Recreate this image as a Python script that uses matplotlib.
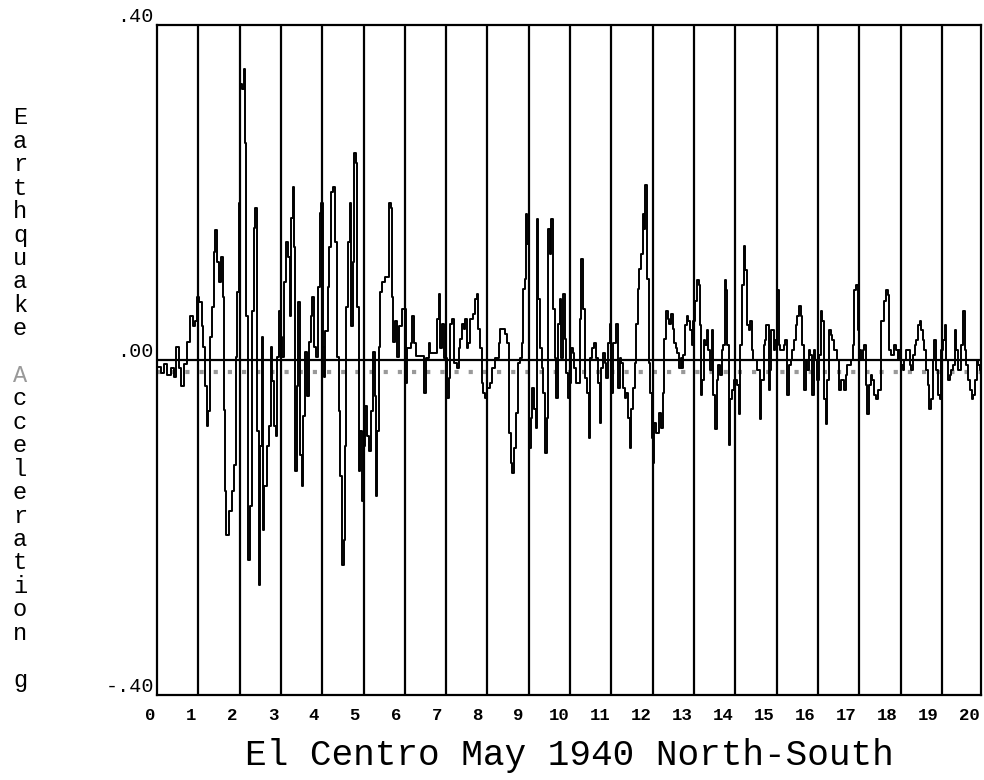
import numpy as np
import matplotlib
matplotlib.use("Agg")
import matplotlib.pyplot as plt
import matplotlib.transforms as mtransforms

# El Centro N-S record (time s, acceleration g)
t_a = [0.00, 0.10, 0.18, 0.25, 0.33, 0.40, 0.47, 0.53, 0.59, 0.65, 0.72, 0.80, 0.86, 0.92,
       0.96, 1.02, 1.08, 1.12, 1.16, 1.20, 1.24, 1.28, 1.33, 1.38, 1.41, 1.46, 1.51, 1.55,
       1.59, 1.62, 1.65, 1.67, 1.73, 1.81, 1.87, 1.90, 1.93, 1.98, 2.02, 2.06, 2.10, 2.14,
       2.16, 2.20, 2.24, 2.30, 2.34, 2.38, 2.42, 2.46, 2.50, 2.53, 2.56, 2.60, 2.67, 2.71,
       2.75, 2.79, 2.83, 2.87, 2.91, 2.95, 2.99, 3.03, 3.07, 3.13, 3.17, 3.21, 3.25, 3.28,
       3.32, 3.34, 3.38, 3.41, 3.46, 3.50, 3.54, 3.59, 3.64, 3.68, 3.72, 3.76, 3.80, 3.85,
       3.89, 3.94, 3.98, 4.01, 4.05, 4.07, 4.13, 4.17, 4.21, 4.27, 4.31, 4.36, 4.40, 4.44,
       4.48, 4.52, 4.55, 4.58, 4.62, 4.66, 4.70, 4.74, 4.78, 4.82, 4.85, 4.88, 4.92, 4.96,
       5.00, 5.04, 5.09, 5.14, 5.19, 5.23, 5.27, 5.31, 5.33, 5.37, 5.40, 5.45, 5.51, 5.58,
       5.61, 5.66, 5.69, 5.72, 5.76, 5.80, 5.86, 5.94]
g_a = [-0.008, -0.015, -0.005, -0.018, -0.010, -0.020, 0.016, -0.010, -0.031, -0.005, 0.022,
       0.052, 0.040, 0.046, 0.075, 0.069, 0.040, 0.016, -0.031, -0.079, -0.061, 0.028, 0.063,
       0.129, 0.155, 0.117, 0.093, 0.123, 0.075, -0.060, -0.156, -0.209, -0.180, -0.156,
       -0.126, 0.004, 0.081, 0.188, 0.330, 0.324, 0.348, 0.259, 0.052, -0.239, -0.174, 0.058,
       0.158, 0.182, -0.085, -0.269, -0.103, 0.028, -0.203, -0.150, -0.103, -0.079, 0.016,
       -0.025, -0.079, -0.091, 0.004, 0.058, 0.028, 0.004, 0.093, 0.141, 0.123, 0.052, 0.170,
       0.206, 0.135, -0.132, -0.031, 0.069, -0.114, -0.150, -0.067, 0.010, -0.043, 0.022,
       0.052, 0.075, 0.016, 0.004, 0.087, 0.176, 0.188, 0.016, -0.020, 0.034, 0.087, 0.135,
       0.200, 0.206, 0.141, 0.004, -0.061, -0.138, -0.245, -0.215, -0.103, 0.063, 0.141,
       0.188, 0.040, 0.117, 0.247, 0.235, 0.063, -0.132, -0.085, -0.168, -0.103, -0.055,
       -0.091, -0.109, -0.061, 0.010, -0.043, -0.162, -0.085, 0.016, 0.081, 0.093, 0.099,
       0.099, 0.188, 0.182, 0.075, 0.022, 0.046, 0.004, 0.040, 0.061]

t_b = [6.02, 6.06, 6.14, 6.18, 6.22, 6.26, 6.46, 6.50, 6.58, 6.62, 6.78, 6.82, 6.86, 6.90,
       6.94, 7.02, 7.06, 7.10, 7.14, 7.18, 7.26, 7.30, 7.34, 7.38, 7.42, 7.46, 7.50, 7.54,
       7.58, 7.66, 7.70, 7.74, 7.78, 7.82, 7.86, 7.90, 7.94, 7.98, 8.06, 8.10, 8.18, 8.27,
       8.31, 8.43, 8.47, 8.51, 8.53, 8.56, 8.60, 8.64, 8.68, 8.73, 8.79, 8.83, 8.87, 8.91,
       8.93, 8.96, 9.01, 9.05, 9.09, 9.12, 9.17, 9.19, 9.23, 9.27, 9.31, 9.35, 9.39, 9.43,
       9.47, 9.51, 9.55, 9.59, 9.63, 9.67, 9.71, 9.75, 9.79, 9.83, 9.87, 9.91, 9.95, 9.99,
       10.02, 10.06, 10.10, 10.15, 10.23, 10.27, 10.31, 10.35, 10.41, 10.45, 10.49, 10.54,
       10.57, 10.62, 10.68, 10.72, 10.76, 10.80, 10.84, 10.88, 10.92, 10.96, 11.00, 11.04,
       11.12, 11.16, 11.20, 11.24, 11.28, 11.32, 11.36, 11.40, 11.44, 11.48, 11.52, 11.56,
       11.60, 11.64, 11.68, 11.72, 11.76, 11.80, 11.82, 11.86, 11.90, 11.94, 11.98, 12.00,
       12.04, 12.08, 12.16, 12.20, 12.24, 12.28, 12.32, 12.36, 12.40, 12.44, 12.48, 12.52,
       12.56, 12.60, 12.64, 12.68, 12.72]
g_b = [-0.028, 0.014, 0.020, 0.052, 0.020, 0.005, -0.040, 0.002, 0.020, 0.008, 0.049, 0.079,
       0.014, 0.043, 0.002, -0.046, -0.022, 0.043, 0.049, -0.004, -0.010, 0.014, 0.025,
       0.043, 0.037, 0.049, 0.014, 0.020, 0.049, 0.055, 0.073, 0.079, 0.037, 0.014, -0.028,
       -0.040, -0.046, -0.034, -0.028, -0.010, 0.002, 0.020, 0.037, 0.031, 0.020, 0.002,
       -0.087, -0.123, -0.135, -0.105, -0.063, -0.004, 0.002, 0.020, 0.085, 0.097, 0.174,
       0.138, -0.105, -0.069, -0.034, -0.058, -0.081, 0.168, 0.073, 0.014, -0.010, -0.040,
       -0.111, -0.069, 0.156, 0.126, 0.168, 0.061, 0.002, -0.046, 0.043, 0.073, 0.002, 0.079,
       0.025, -0.016, -0.046, -0.028, 0.014, 0.008, -0.010, -0.028, 0.049, 0.120, 0.061,
       -0.022, -0.040, -0.093, 0.002, 0.014, 0.020, 0.002, -0.028, -0.075, -0.010, 0.008,
       -0.004, -0.022, 0.020, 0.043, -0.040, 0.020, 0.043, -0.034, 0.002, -0.004, -0.034,
       -0.046, -0.040, -0.069, -0.105, -0.058, -0.034, -0.004, 0.043, 0.085, 0.109, 0.126,
       0.174, 0.156, 0.209, 0.097, -0.004, -0.040, -0.093, -0.123, -0.075, -0.087, -0.063,
       -0.081, -0.040, 0.025, 0.058, 0.049, 0.043, 0.055, 0.037, 0.020, 0.014, 0.008, -0.010,
       0.002, -0.010]

t_c = [12.74, 12.78, 12.82, 12.86, 12.90, 12.94, 12.98, 13.02, 13.07, 13.11, 13.15, 13.16,
       13.20, 13.24, 13.27, 13.31, 13.35, 13.39, 13.43, 13.47, 13.51, 13.55, 13.59, 13.63,
       13.67, 13.71, 13.74, 13.78, 13.81, 13.84, 13.88, 13.92, 13.97, 14.04, 14.08, 14.12,
       14.16, 14.20, 14.24, 14.28, 14.32, 14.36, 14.40, 14.44, 14.53, 14.59, 14.62, 14.69,
       14.73, 14.75, 14.81, 14.85, 14.87, 14.93, 14.97, 15.01, 15.05, 15.09, 15.13, 15.17,
       15.21, 15.25, 15.30, 15.34, 15.38, 15.42, 15.46, 15.50, 15.54, 15.58, 15.62, 15.66,
       15.70, 15.74, 15.78, 15.82, 15.86, 15.90, 15.94, 15.99, 16.03, 16.07, 16.11, 16.15,
       16.19, 16.23, 16.27, 16.31, 16.35, 16.39, 16.47, 16.51, 16.55, 16.63, 16.67, 16.71,
       16.80, 16.84, 16.88, 16.92, 16.96, 17.00, 17.04, 17.08, 17.12, 17.16, 17.20, 17.24,
       17.28, 17.32, 17.36, 17.40, 17.45, 17.53, 17.61, 17.65, 17.69, 17.73, 17.77, 17.85,
       17.89, 17.93, 17.97, 18.01, 18.05, 18.09, 18.13, 18.22, 18.26, 18.30, 18.34, 18.38,
       18.42, 18.46, 18.50, 18.54, 18.58, 18.62, 18.66, 18.70, 18.74, 18.78, 18.82, 18.86,
       18.90, 18.95, 18.99, 19.03, 19.07, 19.11, 19.15, 19.19, 19.23, 19.27, 19.31, 19.35,
       19.39, 19.47, 19.51, 19.55, 19.59, 19.63, 19.68, 19.72, 19.76, 19.80, 19.84, 19.88,
       19.92, 19.96]
g_c = [0.006, 0.042, 0.053, 0.047, 0.036, 0.018, 0.047, 0.071, 0.095, 0.089, 0.042, -0.042,
       -0.024, 0.024, 0.018, 0.036, 0.012, -0.012, 0.036, -0.042, -0.083, -0.024, -0.006,
       -0.018, 0.012, 0.018, 0.095, 0.083, 0.018, -0.101, -0.047, -0.036, -0.024, -0.030,
       -0.065, 0.018, 0.089, 0.136, 0.107, 0.042, 0.036, 0.047, 0.012, 0.000, -0.012, -0.071,
       -0.024, 0.018, 0.024, 0.042, -0.036, -0.012, 0.036, 0.012, 0.024, 0.083, 0.018, 0.012,
       0.012, 0.018, 0.024, -0.042, -0.006, 0.000, 0.012, 0.024, 0.042, 0.053, 0.065, 0.053,
       0.018, -0.036, 0.000, -0.012, 0.012, 0.006, -0.042, 0.012, 0.000, -0.024, 0.006, 0.059,
       0.047, -0.047, -0.077, -0.024, 0.036, 0.030, 0.024, 0.012, 0.000, -0.036, -0.024,
       -0.036, -0.018, -0.006, 0.000, 0.018, 0.083, 0.089, 0.036, 0.012, 0.000, 0.012, 0.018,
       -0.030, -0.065, -0.030, -0.018, -0.024, -0.042, -0.047, -0.036, 0.047, 0.071, 0.083,
       0.077, 0.012, 0.006, 0.018, 0.012, 0.000, 0.012, -0.006, -0.012, 0.000, 0.012, -0.006,
       -0.012, 0.006, 0.018, 0.024, 0.042, 0.047, 0.036, 0.024, 0.012, -0.012, -0.030, -0.059,
       -0.047, 0.000, 0.024, -0.012, -0.042, -0.047, 0.012, 0.024, 0.042, 0.000, -0.024,
       -0.018, -0.012, -0.006, 0.036, 0.012, -0.012, 0.018, 0.059, 0.012, -0.006, -0.024,
       -0.036, -0.047, -0.042, -0.024, 0.000, -0.006, -0.012, 0.012]

seconds = list(range(1, 20))
x_labels = [str(k) for k in range(0, 21)]
y_ticks = [0.40, 0.00, -0.40]
y_labels = ['.40', '.00', '-.40']
ylabel_text = 'Earthquake Acceleration g'
xlabel_text = 'El Centro May 1940 North-South'

MONO = ['Liberation Mono', 'DejaVu Sans Mono']

fig = plt.figure(figsize=(9.84, 7.80), dpi=100)
ax = fig.add_axes([0.1596, 0.109, 0.8374, 0.859])

t = np.array(t_a + t_b + t_c)
g = np.array(g_a + g_b + g_c)

# scanner speckle row just under the zero line
ax.axhline(-0.014, color='0.6', lw=3.0, dashes=(1.0, 2.4), zorder=1)
ax.axhline(0.0, color='black', lw=1.6, zorder=2)
for s in seconds:
    ax.axvline(s, color='black', lw=1.6, zorder=2)
ax.plot(t, g, color='black', lw=1.4, drawstyle='steps-post', zorder=3)

ax.set_xlim(0, 19.95)
ax.set_ylim(-0.4, 0.4)
ax.set_xticks([])
ax.set_yticks([])
for sp in ax.spines.values():
    sp.set_linewidth(1.6)

# tick labels (sit a little left of the grid lines on the scan)
xt = mtransforms.blended_transform_factory(ax.transData, ax.transAxes)
for k, lab in enumerate(x_labels):
    ax.text(0.9915 * k - 0.17, -0.03, lab, transform=xt, ha='center', va='center',
            family=MONO, fontsize=12.5, fontweight='bold', clip_on=False)

yt = mtransforms.blended_transform_factory(ax.transAxes, ax.transData)
for v, lab in zip(y_ticks, y_labels):
    ax.text(-0.004, v + 0.004, lab, transform=yt, ha='right', va='baseline',
            family=MONO, fontsize=14.5, clip_on=False)

# stacked vertical axis label
top_px, bot_px = 118, 680
n = len(ylabel_text)
for i, ch in enumerate(ylabel_text):
    if ch == ' ':
        continue
    ypx = top_px + i * (bot_px - top_px) / (n - 1)
    fig.text(20 / 984, 1 - ypx / 780, ch, ha='center', va='center', family=MONO,
             fontsize=17, color='0.6' if i == 11 else 'black')

fig.text(0.579, 0.032, xlabel_text, ha='center', va='center', family=MONO, fontsize=26)

fig.savefig('out.png', dpi=100, facecolor='white')
